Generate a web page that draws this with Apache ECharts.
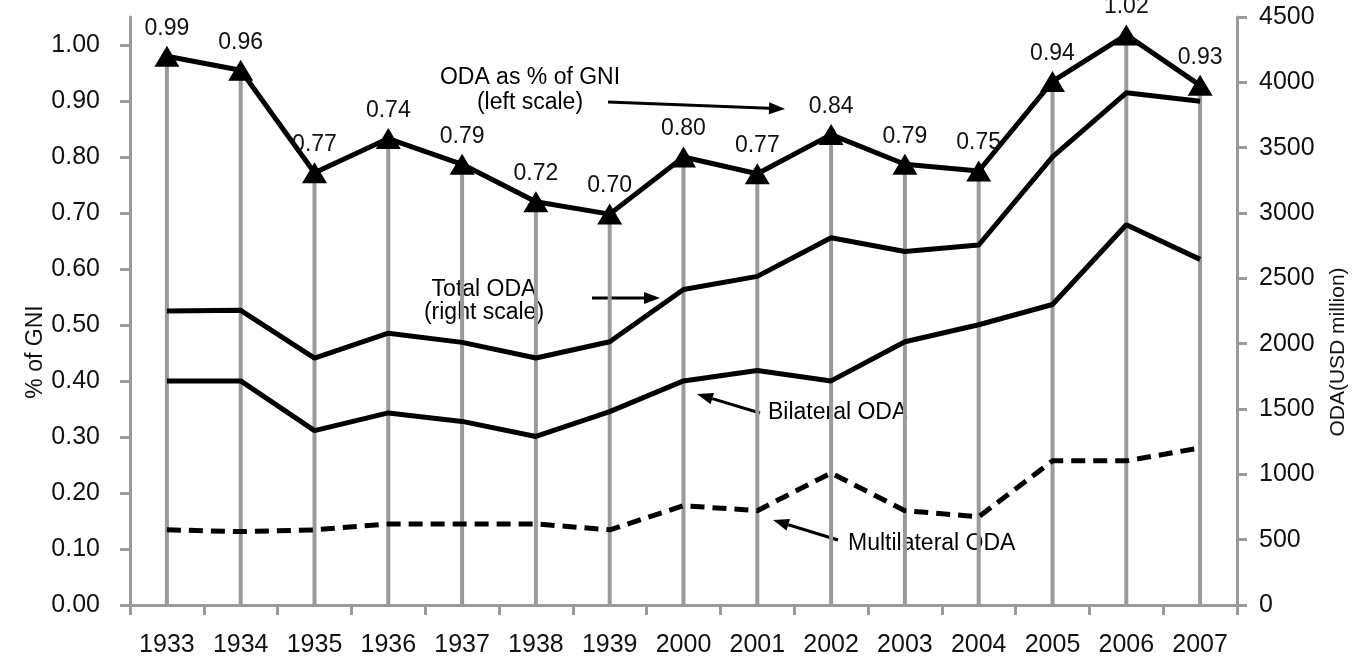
<!DOCTYPE html>
<html><head><meta charset="utf-8">
<script src="https://cdn.jsdelivr.net/npm/echarts@6/dist/echarts.min.js"></script>
<style>html,body{margin:0;padding:0;background:#fff}#c{width:1371px;height:662px}</style>
</head><body><div id="c"></div>
<script>
const years = ['1933','1934','1935','1936','1937','1938','1939','2000','2001','2002','2003','2004','2005','2006','2007'];
const gniPct = [0.98, 0.955, 0.772, 0.833, 0.787, 0.72, 0.698, 0.80, 0.77, 0.84, 0.787, 0.775, 0.935, 1.018, 0.928];
const gniLabels = ['0.99','0.96','0.77','0.74','0.79','0.72','0.70','0.80','0.77','0.84','0.79','0.75','0.94','1.02','0.93'];
const totalODA = [2250, 2255, 1890, 2080, 2010, 1890, 2015, 2415, 2515, 2810, 2705, 2755, 3430, 3920, 3855];
const bilateralODA = [1715, 1715, 1335, 1470, 1405, 1290, 1480, 1715, 1795, 1715, 2015, 2145, 2300, 2910, 2645];
const multilateralODA = [575, 562, 575, 620, 620, 620, 575, 760, 722, 1010, 722, 675, 1103, 1103, 1202];
const leftTicks = [0,0.1,0.2,0.3,0.4,0.5,0.6,0.7,0.8,0.9,1.0];

const FONT = '"Liberation Sans", Arial, sans-serif';
const GRAY = '#9a9a9a';
const chart = echarts.init(document.getElementById('c'));

function arrow(x1,y1,x2,y2){
  const ang = Math.atan2(y2-y1, x2-x1), L = 16, W = 6;
  const bx = x2 - L*Math.cos(ang), by = y2 - L*Math.sin(ang);
  const px = -Math.sin(ang)*W, py = Math.cos(ang)*W;
  return [
    {type:'line', shape:{x1:x1,y1:y1,x2:bx,y2:by}, style:{stroke:'#000', lineWidth:3}},
    {type:'polygon', shape:{points:[[x2,y2],[bx+px,by+py],[bx-px,by-py]]}, style:{fill:'#000'}}
  ];
}
const annStyle = {fill:'#000', font:'23px '+FONT, textAlign:'center', textVerticalAlign:'middle'};
const graphics = [].concat(
  [{type:'text', x:530, y:78, style:Object.assign({text:'ODA as % of GNI'}, annStyle)},
   {type:'text', x:530, y:103, style:Object.assign({text:'(left scale)'}, annStyle)},
   {type:'text', x:484, y:290, style:Object.assign({text:'Total ODA'}, annStyle)},
   {type:'text', x:484, y:313, style:Object.assign({text:'(right scale)'}, annStyle)},
   {type:'text', x:768, y:413, style:Object.assign({}, annStyle, {text:'Bilateral ODA', textAlign:'left'})},
   {type:'text', x:848, y:544, style:Object.assign({}, annStyle, {text:'Multilateral ODA', textAlign:'left'})},
   {type:'text', x:36, y:352, rotation:Math.PI/2, style:{text:'% of GNI', fill:'#111', font:'23px '+FONT, textAlign:'center', textVerticalAlign:'middle'}},
   {type:'text', x:1338, y:352, rotation:Math.PI/2, style:{text:'ODA(USD million)', fill:'#111', font:'21px '+FONT, textAlign:'center', textVerticalAlign:'middle'}}],
  arrow(608,102,785,109), arrow(592,298,660,298), arrow(760,413,697,394), arrow(838,540,773,520)
);

chart.setOption({
  animation:false,
  backgroundColor:'#fff',
  grid:{left:130, right:134, top:17, bottom:57, containLabel:false},
  xAxis:{type:'category', data:years, boundaryGap:true,
    axisLine:{lineStyle:{color:GRAY, width:3}},
    axisTick:{show:true, length:10, lineStyle:{color:GRAY, width:3}},
    axisLabel:{color:'#111', fontSize:25, fontFamily:FONT, margin:28},
    splitLine:{show:false}},
  yAxis:[
    {type:'value', min:0, max:1.05, interval:0.1, position:'left',
     axisLine:{show:true, lineStyle:{color:GRAY, width:3}},
     axisTick:{show:true, length:10, lineStyle:{color:GRAY, width:3}, customValues:leftTicks},
     axisLabel:{color:'#111', fontSize:25, fontFamily:FONT, margin:30, customValues:leftTicks,
       formatter:v=>v.toFixed(2)},
     splitLine:{show:false}},
    {type:'value', min:0, max:4500, interval:500, position:'right',
     axisLine:{show:true, lineStyle:{color:GRAY, width:3}},
     axisTick:{show:true, length:10, lineStyle:{color:GRAY, width:3}},
     axisLabel:{color:'#111', fontSize:25, fontFamily:FONT, margin:22, formatter:v=>String(v)},
     splitLine:{show:false}}
  ],
  series:[
    {type:'bar', yAxisIndex:0, data:gniPct, barWidth:4, itemStyle:{color:GRAY}, z:1, silent:true},
    {type:'line', yAxisIndex:1, data:totalODA, symbol:'none', lineStyle:{color:'#000', width:5}, z:3},
    {type:'line', yAxisIndex:1, data:bilateralODA, symbol:'none', lineStyle:{color:'#000', width:5}, z:3},
    {type:'line', yAxisIndex:1, data:multilateralODA, symbol:'none', lineStyle:{color:'#000', width:5, type:[14,8]}, z:3},
    {type:'line', yAxisIndex:0, data:gniPct, symbol:'triangle', symbolSize:[25,21],
     itemStyle:{color:'#000'}, lineStyle:{color:'#000', width:5}, z:4,
     label:{show:true, position:'top', distance:6, color:'#111', fontSize:23, fontFamily:FONT,
       formatter:p=>gniLabels[p.dataIndex]}}
  ],
  graphic:graphics
});
</script></body></html>
